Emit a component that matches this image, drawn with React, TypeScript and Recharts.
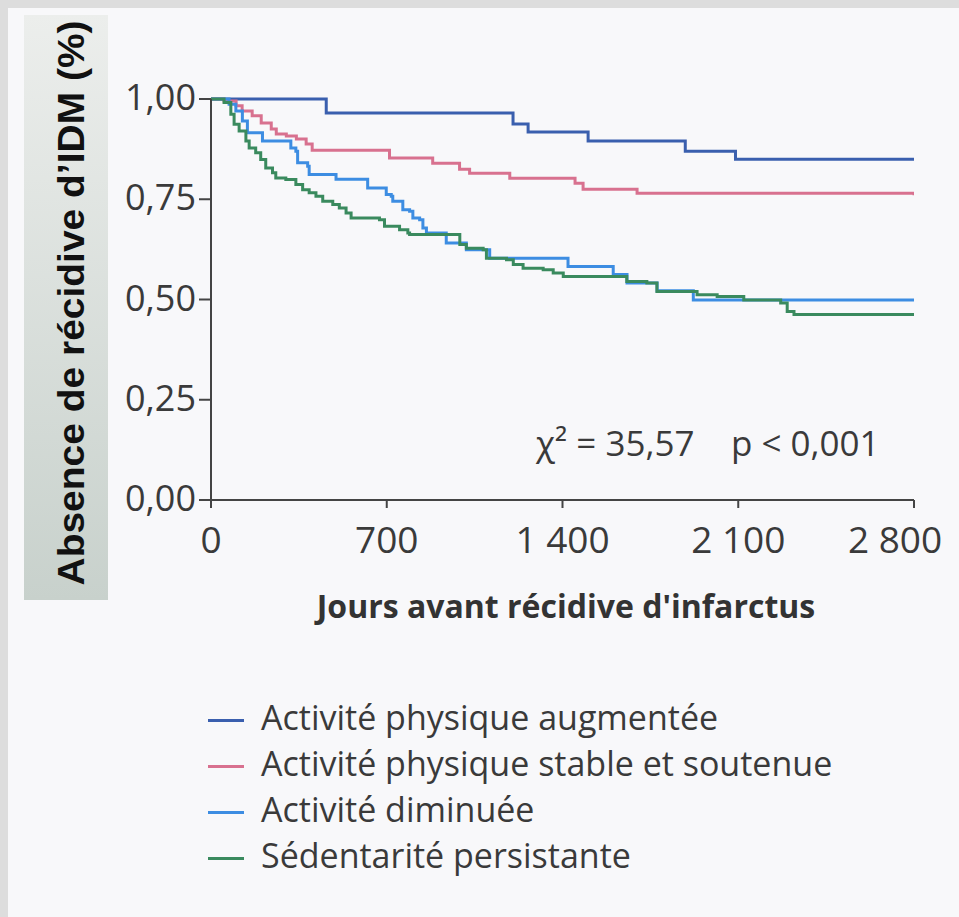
import { LineChart, Line, XAxis, YAxis, Legend } from "recharts";

// Kaplan-Meier : jour de l'événement -> survie sans récidive après l'événement
const joursAugmentee = [0, 459, 1203, 1263, 1502, 1889, 2089, 2800];
const survieAugmentee = [1.0, 0.965, 0.9375, 0.9175, 0.895, 0.87, 0.85, 0.85];

const joursStable = [0, 52, 100, 124, 164, 200, 240, 260, 300, 340, 379, 403, 711, 883, 990, 1030, 1190, 1450, 1482, 1697, 2800];
const survieStable = [1.0, 0.995, 0.983, 0.97, 0.958, 0.94, 0.925, 0.913, 0.9075, 0.9, 0.888, 0.872, 0.853, 0.84, 0.825, 0.815, 0.8025, 0.79, 0.775, 0.765, 0.76];

const joursDiminuee = [0, 72, 99, 125, 145, 205, 318, 338, 345, 385, 391, 498, 624, 698, 718, 724, 764, 791, 804, 831, 844, 858, 937, 1017, 1110, 1422, 1602, 1657, 1777, 1921, 2800];
const survieDiminuee = [1.0, 0.987, 0.97, 0.945, 0.916, 0.895, 0.878, 0.87, 0.841, 0.8325, 0.812, 0.8, 0.778, 0.762, 0.7575, 0.745, 0.724, 0.72, 0.703, 0.699, 0.678, 0.666, 0.641, 0.624, 0.603, 0.5825, 0.5625, 0.541, 0.522, 0.499, 0.497];

const joursSedentarite = [0, 52, 79, 92, 112, 139, 152, 178, 198, 218, 245, 258, 298, 338, 365, 391, 418, 445, 485, 511, 538, 558, 671, 691, 751, 784, 791, 991, 1017, 1084, 1097, 1177, 1204, 1243, 1323, 1363, 1403, 1656, 1736, 1776, 1936, 2016, 2122, 2269, 2295, 2322, 2800];
const survieSedentarite = [1.0, 0.991, 0.962, 0.937, 0.92, 0.895, 0.878, 0.866, 0.849, 0.828, 0.816, 0.803, 0.799, 0.787, 0.774, 0.766, 0.7575, 0.745, 0.737, 0.728, 0.716, 0.703, 0.699, 0.6825, 0.674, 0.666, 0.662, 0.637, 0.628, 0.624, 0.603, 0.599, 0.587, 0.578, 0.574, 0.566, 0.5575, 0.545, 0.541, 0.52, 0.512, 0.5075, 0.499, 0.491, 0.47, 0.4625, 0.4625];

const xTicks = [0, 700, 1400, 2100, 2800];
const yTicks = [0, 0.25, 0.5, 0.75, 1];

const toData = (jours: number[], survie: number[]) => jours.map((jour, i) => ({ jour, survie: survie[i] }));

const series = [
  { name: "Activité physique augmentée", color: "#3a5fae", data: toData(joursAugmentee, survieAugmentee) },
  { name: "Activité physique stable et soutenue", color: "#d8718f", data: toData(joursStable, survieStable) },
  { name: "Activité diminuée", color: "#3d8de2", data: toData(joursDiminuee, survieDiminuee) },
  { name: "Sédentarité persistante", color: "#3a8a5e", data: toData(joursSedentarite, survieSedentarite) },
];

const FONT = "'Open Sans', 'Noto Sans', sans-serif";
const TEXT = "#3a3a3a";

const fmtJour = (v: number) => (v >= 1000 ? `${Math.floor(v / 1000)} ${String(v % 1000).padStart(3, "0")}` : String(v));
const fmtSurvie = (v: number) => v.toFixed(2).replace(".", ",");

const XTick = (props: any) => {
  const { x, y, payload } = props;
  const shift = payload.value === 2800 ? -19 : 0;
  return (
    <text x={x + shift} y={y} dy={45} textAnchor="middle" fill={TEXT} fontSize={37} fontFamily={FONT}>
      {fmtJour(payload.value)}
    </text>
  );
};

const YTick = (props: any) => {
  const { x, y, payload } = props;
  return (
    <text x={x - 3} y={y} dy={11} textAnchor="end" fill={TEXT} fontSize={36} fontFamily={FONT}>
      {fmtSurvie(payload.value)}
    </text>
  );
};

const YTitle = () => (
  <g>
    <defs>
      <linearGradient id="ybox" x1="0" y1="0" x2="0" y2="1">
        <stop offset="0%" stopColor="#eceeec" />
        <stop offset="100%" stopColor="#c8d1cc" />
      </linearGradient>
    </defs>
    <rect x={24} y={15} width={84} height={585} fill="url(#ybox)" />
    <text
      x={84}
      y={303}
      transform="rotate(-90 84 303)"
      textAnchor="middle"
      fontSize={36}
      fontWeight={700}
      fontFamily="'Liberation Sans', Arial, sans-serif"
      fill="#111"
      textLength={565}
      lengthAdjust="spacingAndGlyphs"
    >
      Absence de récidive d’IDM (%)
    </text>
  </g>
);

const XTitle = () => (
  <text x={566} y={618} textAnchor="middle" fontSize={32} fontWeight={700} fontFamily={FONT} fill="#333">
    Jours avant récidive d'infarctus
  </text>
);

const LegendContent = () => (
  <div style={{ fontFamily: FONT }}>
    {series.map((s) => (
      <div key={s.name} style={{ display: "flex", alignItems: "center", height: 46 }}>
        <span style={{ display: "inline-block", width: 36, height: 3, background: s.color, marginRight: 17, marginTop: 6 }} />
        <span style={{ fontSize: 34, color: TEXT, lineHeight: "46px" }}>{s.name}</span>
      </div>
    ))}
  </div>
);

export default function App() {
  return (
    <div style={{ position: "absolute", left: 0, top: 0, width: 959, height: 917, background: "#dddddd", overflow: "hidden" }}>
      <div style={{ position: "absolute", left: 8, top: 8, right: 0, bottom: 0, background: "#f8f8fa" }} />
      <div style={{ position: "absolute", left: 0, top: 0 }}>
        <LineChart width={959} height={917} margin={{ top: 99, right: 45, bottom: 297, left: 111 }}>
          <XAxis
            type="number"
            dataKey="jour"
            domain={[0, 2800]}
            ticks={xTicks}
            allowDataOverflow
            height={120}
            axisLine={{ stroke: "#444", strokeWidth: 2 }}
            tickLine={{ stroke: "#444", strokeWidth: 2 }}
            tickSize={8}
            tickMargin={0}
            tick={<XTick />}
            label={{ content: () => <XTitle /> }}
          />
          <YAxis
            type="number"
            domain={[0, 1]}
            ticks={yTicks}
            width={100}
            axisLine={{ stroke: "#444", strokeWidth: 2 }}
            tickLine={{ stroke: "#444", strokeWidth: 2 }}
            tickSize={12}
            tickMargin={0}
            tick={<YTick />}
            label={{ content: () => <YTitle /> }}
          />
          {series.map((s) => (
            <Line
              key={s.name}
              name={s.name}
              data={s.data}
              dataKey="survie"
              type="stepAfter"
              stroke={s.color}
              strokeWidth={3}
              dot={false}
              activeDot={false}
              isAnimationActive={false}
            />
          ))}
          <Legend
            layout="vertical"
            align="center"
            verticalAlign="middle"
            wrapperStyle={{ left: 208, top: 694, width: 740 }}
            content={() => <LegendContent />}
          />
        </LineChart>
      </div>
      <div
        style={{
          position: "absolute",
          left: 536,
          top: 421,
          fontFamily: FONT,
          fontSize: 35,
          color: TEXT,
          whiteSpace: "pre",
          lineHeight: "44px",
        }}
      >
        {"χ² = 35,57    p < 0,001"}
      </div>
    </div>
  );
}
